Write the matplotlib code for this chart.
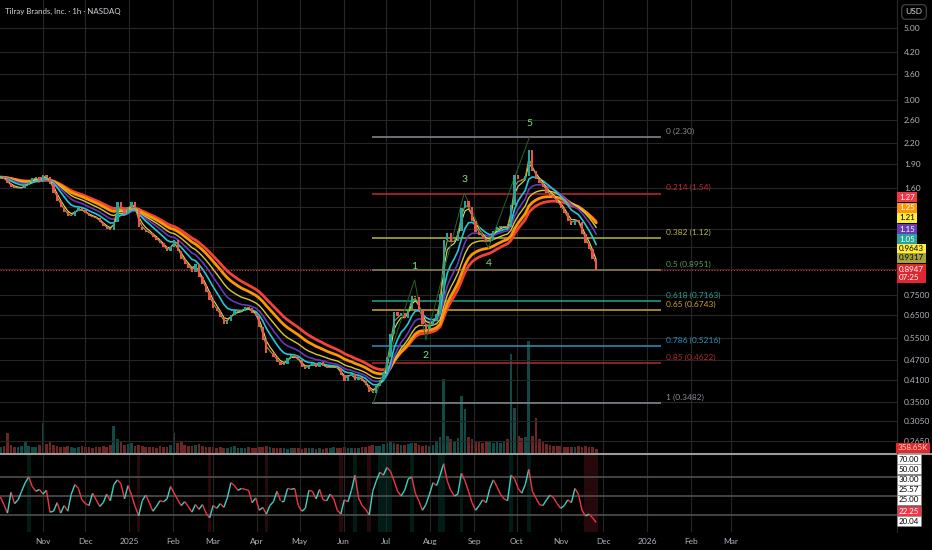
import matplotlib
matplotlib.use('Agg')
import matplotlib.pyplot as plt
import matplotlib.dates as mdates
from matplotlib.collections import LineCollection
from matplotlib.lines import Line2D
from matplotlib.ticker import NullLocator
import numpy as np
import pandas as pd

plt.rcParams['font.family'] = ['Lato', 'DejaVu Sans']

# closes, one every 2.5 days
close = [1.73, 1.71, 1.66, 1.61, 1.60, 1.60, 1.60, 1.64, 1.67, 1.72,
         1.73, 1.68, 1.76, 1.73, 1.65, 1.55, 1.46, 1.40, 1.35, 1.31,
         1.31, 1.36, 1.39, 1.37, 1.34, 1.31, 1.30, 1.29, 1.26, 1.22,
         1.20, 1.19, 1.26, 1.45, 1.38, 1.33, 1.40, 1.45, 1.39, 1.21,
         1.19, 1.17, 1.16, 1.13, 1.11, 1.08, 1.05, 1.02, 1.05, 1.11,
         1.02, 0.97, 0.93, 0.91, 0.88, 0.93, 0.85, 0.81, 0.765, 0.722,
         0.683, 0.668, 0.641, 0.609, 0.623, 0.650, 0.668, 0.668, 0.668, 0.688,
         0.683, 0.659, 0.645, 0.597, 0.544, 0.495, 0.495, 0.482, 0.465, 0.455,
         0.458, 0.478, 0.489, 0.482, 0.472, 0.448, 0.442, 0.452, 0.462, 0.448,
         0.465, 0.452, 0.445, 0.448, 0.448, 0.445, 0.424, 0.406, 0.421, 0.427,
         0.409, 0.418, 0.406, 0.395, 0.376, 0.373, 0.392, 0.409, 0.433, 0.482,
         0.568, 0.664, 0.645, 0.659, 0.636, 0.678, 0.743, 0.738, 0.673, 0.609,
         0.588, 0.605, 0.623, 0.654, 0.754, 1.107, 1.164, 1.091, 1.099, 1.181,
         1.390, 1.461, 1.400, 1.267, 1.172, 1.147, 1.115, 1.091, 1.107, 1.181,
         1.215, 1.215, 1.223, 1.215, 1.420, 1.757, 1.708, 1.696, 1.744, 2.100,
         1.808, 1.708, 1.660, 1.614, 1.547, 1.513, 1.492, 1.440, 1.390, 1.341,
         1.267, 1.232, 1.276, 1.258, 1.156, 1.084, 1.038, 0.967, 0.8947]

volume_k = [500, 600, 1800, 700, 550, 500, 650, 1000, 600, 500,
            550, 700, 2650, 800, 1100, 700, 600, 550, 500, 600,
            500, 450, 500, 600, 550, 500, 450, 500, 550, 600,
            500, 700, 2400, 1200, 1100, 700, 800, 900, 600, 700,
            600, 550, 500, 500, 450, 600, 500, 550, 700, 1800,
            900, 1100, 700, 600, 650, 700, 800, 600, 550, 500,
            500, 450, 500, 400, 450, 500, 600, 450, 400, 450,
            500, 400, 450, 500, 550, 600, 500, 450, 400, 450,
            400, 350, 400, 450, 400, 350, 400, 450, 400, 350,
            400, 350, 400, 450, 500, 400, 450, 500, 450, 400,
            450, 400, 500, 550, 650, 700, 600, 650, 800, 900,
            1000, 900, 800, 750, 700, 800, 900, 850, 700, 650,
            700, 650, 700, 1000, 1400, 6500, 1500, 1200, 1100, 1300,
            5000, 3900, 1400, 1200, 1000, 1100, 900, 1000, 1100, 900,
            1000, 900, 1000, 1200, 8700, 4000, 1500, 1300, 1400, 9900,
            1500, 3100, 1200, 1000, 800, 700, 650, 600, 600, 550,
            500, 550, 500, 600, 550, 600, 500, 550, 358.65]

rsi = [49, 41, 32, 54, 42, 46, 55, 64, 70, 60,
       55, 57, 52, 56, 33, 34, 43, 32, 40, 34,
       52, 62, 58, 46, 42, 40, 53, 46, 39, 43,
       52, 45, 62, 67, 63, 47, 61, 51, 39, 29,
       45, 51, 43, 34, 39, 45, 44, 47, 60, 53,
       46, 40, 44, 39, 33, 41, 36, 41, 32, 27,
       40, 37, 42, 38, 48, 64, 61, 56, 58, 57,
       56, 43, 48, 35, 38, 31, 40, 44, 55, 45,
       45, 58, 57, 58, 40, 34, 37, 56, 55, 47,
       57, 46, 45, 52, 47, 35, 31, 46, 44, 56,
       72, 48, 40, 36, 30, 55, 66, 75, 72, 80,
       76, 66, 55, 50, 56, 68, 70, 53, 45, 35,
       41, 52, 64, 61, 72, 84, 66, 56, 50, 52,
       74, 66, 55, 43, 35, 40, 46, 43, 58, 67,
       60, 52, 47, 45, 72, 68, 58, 53, 62, 78,
       55, 48, 41, 40, 46, 51, 48, 42, 37, 40,
       46, 43, 58, 52, 35, 29, 31, 27, 22.25]

dates = pd.date_range('2024-10-02', periods=len(close), freq='60h')

ema_spans = [24, 20, 15, 11, 7, 3, 2]
ema_colors = ['#f44336', '#ff9800', '#d8c83a', '#673ab7', '#26c6da', '#e6dc5a', '#a5a33a']
ema_widths = [2.0, 2.0, 1.0, 1.2, 1.2, 0.8, 0.8]
ema_badges = ['1.27', '1.25', '1.21', '1.15', '1.05', '0.9643', '0.9317']
badge_colors = ['#f23645', '#ff9800', '#ffeb3b', '#673ab7', '#26a69a', '#ffeb3b', '#a5a33a']
badge_text = ['white', 'white', 'black', 'white', 'white', 'black', 'black']

fib_levels = ['0', '0.214', '0.382', '0.5', '0.618', '0.65', '0.786', '0.85', '1']
fib_prices = [2.30, 1.54, 1.12, 0.8951, 0.7163, 0.6743, 0.5216, 0.4622, 0.3482]
fib_colors = ['#8a8d96', '#c62833', '#b5b83a', '#5e9a58', '#22a38e', '#d4a537',
              '#2a94b8', '#b02a30', '#8a8d96']

wave_names = ['', '1', '2', '3', '4', '5']
wave_dates = ['2025-06-22', '2025-07-21', '2025-07-29', '2025-08-25', '2025-09-11', '2025-10-10']
wave_prices = [0.3482, 0.833, 0.544, 1.547, 1.045, 2.30]

price_ticks = [5.0, 4.2, 3.6, 3.0, 2.6, 2.2, 1.9, 1.6, 1.4, 1.2, 1.05, 0.9,
               0.75, 0.65, 0.55, 0.47, 0.41, 0.35, 0.305, 0.265]
hidden_ticks = [1.4, 1.2, 1.05, 0.9]

rsi_labels = ['70.00', '50.00', '30.00', '25.57', '25.00', '22.25', '20.04']

W, H = 932, 550
grid_c = '#262626'
txt_c = '#b2b5be'
up_c = '#26a69a'
dn_c = '#ef5350'

fig = plt.figure(figsize=(W / 100, H / 100), dpi=100, facecolor='black')
ax = fig.add_axes([0, 1 - 453 / H, 897 / W, 453 / H])
axv = ax.twinx()
axr = fig.add_axes([0, 1 - 532 / H, 897 / W, 77 / H], sharex=ax)

ax.set_zorder(2)
ax.patch.set_visible(False)
axv.set_zorder(1)
axr.set_facecolor('black')

x0 = pd.Timestamp('2024-10-01 18:00')
ax.set_xlim(mdates.date2num(x0), mdates.date2num(x0) + 632.3)
ax.set_yscale('log')
ax.set_ylim(0.2433, 6.10)
ax.yaxis.tick_right()
ax.set_yticks(price_ticks)
ax.set_yticklabels(['' if t in hidden_ticks else ('%.2f' % t if t >= 1.5 else '%.4f' % t)
                    for t in price_ticks])
ax.yaxis.set_minor_locator(NullLocator())
ax.tick_params(axis='y', length=0, labelsize=6, labelcolor=txt_c, pad=5)
ax.tick_params(axis='x', length=0, labelbottom=False)

months = pd.date_range('2024-11-01', '2026-03-01', freq='MS')
ax.set_xticks(months)
axr.set_xticklabels([str(m.year) if m.month == 1 else m.strftime('%b') for m in months])
axr.tick_params(axis='x', length=0, labelsize=6, labelcolor=txt_c, pad=4)
axr.tick_params(axis='y', length=0, labelleft=False, labelright=False)

ax.grid(True, color=grid_c, lw=0.8)
axr.grid(True, axis='x', color=grid_c, lw=0.8)
for a in (ax, axr, axv):
    for s in a.spines.values():
        s.set_visible(False)
ax.spines['right'].set_visible(True)
ax.spines['right'].set_color('#2a2a2a')
axr.spines['right'].set_visible(True)
axr.spines['right'].set_color('#2a2a2a')

# volume in the bottom of the price pane
opens = [close[0]] + close[:-1]
vcol = [up_c if c >= o else dn_c for o, c in zip(opens, close)]
axv.bar(dates, volume_k, width=1.9, color=vcol, alpha=0.45, lw=0)
axv.set_ylim(0, 40000)
axv.set_yticks([])
axv.tick_params(length=0, labelright=False)

# ema ribbon
s = pd.Series(close)
for sp, col, lw in zip(ema_spans, ema_colors, ema_widths):
    ax.plot(dates, s.ewm(span=sp, adjust=False).mean(), color=col, lw=lw, zorder=3,
            solid_capstyle='round')

# candles
body_lo = [min(o, c) for o, c in zip(opens, close)]
body_h = [max(abs(c - o), c * 0.004) for o, c in zip(opens, close)]
ax.bar(dates, body_h, bottom=body_lo, width=1.6, color=vcol, lw=0, zorder=4)

# fibonacci retracement
fib_x0 = pd.Timestamp('2025-06-21')
fib_x1 = pd.Timestamp('2026-01-11')
for lvl, p, col in zip(fib_levels, fib_prices, fib_colors):
    ax.hlines(p, fib_x0, fib_x1, color=col, lw=1.1, zorder=2)
    ptxt = '%.2f' % p if p >= 1 else '%.4f' % p
    ax.annotate('%s (%s)' % (lvl, ptxt), xy=(fib_x1, p), xytext=(3, 1.5),
                textcoords='offset points', va='bottom', ha='left', fontsize=6, color=col)

# elliott waves
wd = pd.to_datetime(wave_dates)
ax.plot(wd, wave_prices, color='#21662c', lw=0.7, zorder=3)
for k, (name, d, p) in enumerate(zip(wave_names, wd, wave_prices)):
    if name:
        dy = 10 if k % 2 == 1 else -11
        ax.annotate(name, xy=(d, p), xytext=(0, dy), textcoords='offset points',
                    ha='center', va='center', fontsize=7.5, color='#7be07f', zorder=6)

# last price line
ax.axhline(close[-1], color='#f23645', lw=0.8, ls=(0, (1, 1.5)), zorder=5)

# rsi pane
axr.set_ylim(12.1, 93.2)
for lvl in (70, 50, 30):
    axr.axhline(lvl, color='#4a4a4a', lw=1.3)
for d, v in zip(dates, rsi):
    if v >= 70:
        axr.axvspan(d - pd.Timedelta(hours=30), d + pd.Timedelta(hours=30),
                    color='#089981', alpha=0.18, lw=0)
    elif v <= 31:
        axr.axvspan(d - pd.Timedelta(hours=30), d + pd.Timedelta(hours=30),
                    color='#b22833', alpha=0.22, lw=0)
xn = mdates.date2num(dates)
segs = [[(xn[i], rsi[i]), (xn[i + 1], rsi[i + 1])] for i in range(len(rsi) - 1)]
scol = ['#3fd1c1' if rsi[i + 1] >= rsi[i] else '#f23645' for i in range(len(rsi) - 1)]
axr.add_collection(LineCollection(segs, colors=scol, linewidths=1.0))

# separator between panes
fig.add_artist(Line2D([0, 1], [1 - 454 / H] * 2, color='#9a9a9a', lw=1.5))


def px(x, y):
    return x / W, 1 - y / H


fig.text(*px(5, 11), 'Tilray Brands, Inc. · 1h · NASDAQ', fontsize=5.7, color='#d1d4dc',
         va='center')
fig.text(*px(914, 12), 'USD', fontsize=6, color='#d1d4dc', ha='center', va='center',
         bbox=dict(boxstyle='round,pad=0.45', fc='black', ec='#4a4a4a', lw=0.8))

badge_y = [197, 208, 218, 229, 239, 249, 258]
for t, col, tc, y in zip(ema_badges, badge_colors, badge_text, badge_y):
    fig.text(*px(899, y), t, fontsize=5.8, color=tc, va='center', ha='left',
             bbox=dict(boxstyle='square,pad=0.22', fc=col, ec='none'))
fig.text(*px(899, 273.5), '%.4f\n07:25' % close[-1], fontsize=5.8, color='white',
         va='center', ha='left', linespacing=1.1,
         bbox=dict(boxstyle='square,pad=0.22', fc='#e0262f', ec='none'))
fig.text(*px(898, 448), '%.2fK' % volume_k[-1], fontsize=5.8, color='#ffe0c0',
         va='center', ha='left', bbox=dict(boxstyle='square,pad=0.2', fc='#e0262f', ec='none'))

rsi_y = [459, 469, 480, 490, 500, 511, 521]
for t, y in zip(rsi_labels, rsi_y):
    red = t == '%.2f' % rsi[-1]
    fig.text(*px(899, y), t, fontsize=5.8, color='white' if red else 'black',
             va='center', ha='left',
             bbox=dict(boxstyle='square,pad=0.2', fc='#f23645' if red else 'white',
                       ec='#888888', lw=0.4))

fig.savefig('out.png', dpi=100, facecolor='black')
